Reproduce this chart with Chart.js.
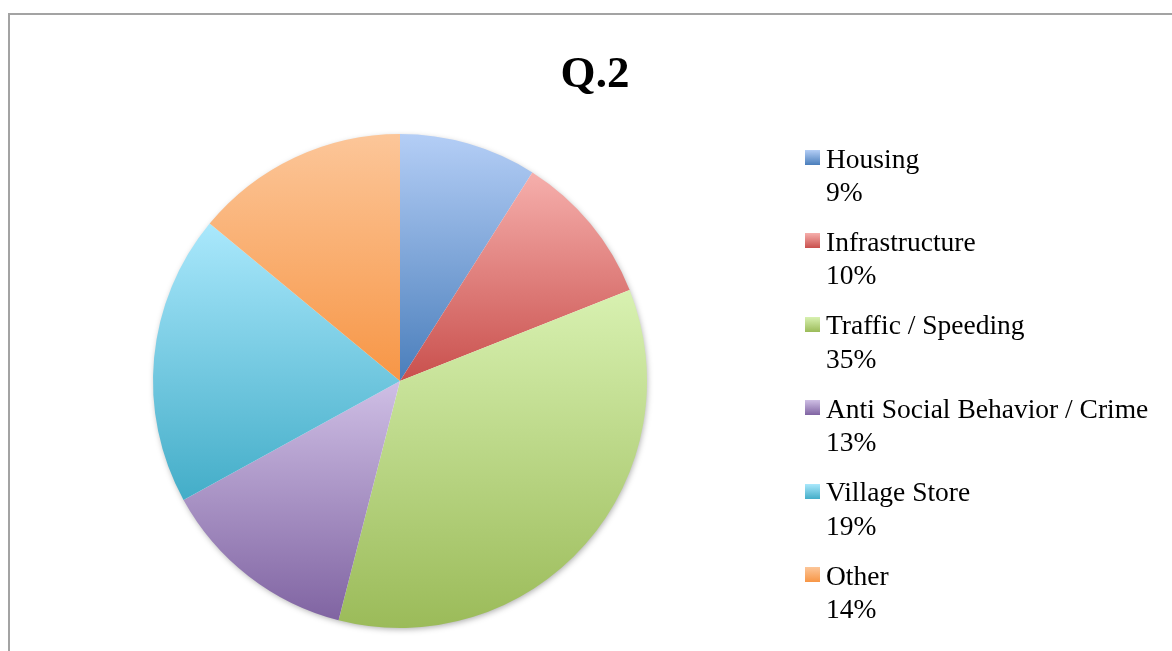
<!DOCTYPE html>
<html>
<head>
<meta charset="utf-8">
<script src="https://cdn.jsdelivr.net/npm/chart.js@4"></script>
<style>
  html, body { margin: 0; padding: 0; background: #fff; overflow: hidden; }
  #frame {
    position: absolute; left: 8px; top: 13px; width: 1164px; height: 638px;
    border-top: 2px solid #a3a3a3; border-left: 2px solid #a3a3a3;
  }
  #wrap { position: absolute; left: 0; top: 0; width: 1162px; height: 636px; }
  .legend-box { position: absolute; width: 15px; height: 15px; }
  .legend-text {
    position: absolute; font-family: "Liberation Serif", serif; font-size: 27.5px;
    line-height: 33.5px; color: #000; white-space: nowrap;
  }
</style>
</head>
<body>
<div id="frame"><div id="wrap"><canvas id="pieChart"></canvas></div></div>
<div id="legend"></div>
<script>
const categories = ['Housing', 'Infrastructure', 'Traffic / Speeding', 'Anti Social Behavior / Crime', 'Village Store', 'Other'];
const percents = [9, 10, 35, 13, 19, 14];
const topColors = ['#b4cef6', '#f6afac', '#d8f1b1', '#cfbfe5', '#aae8fc', '#fcc699'];
const bottomColors = ['#4a7ebb', '#c9504d', '#9bbb59', '#8064a2', '#43adc8', '#f79646'];

// vertical gradient per slice, light at its top, dark at its bottom
function sliceGradient(c) {
  const chart = c.chart;
  const area = chart.chartArea;
  const i = c.dataIndex;
  if (!area) return bottomColors[i];
  const vals = c.dataset.data;
  const total = vals.reduce((a, b) => a + b, 0);
  let before = 0;
  for (let k = 0; k < i; k++) before += vals[k];
  const a0 = -Math.PI / 2 + 2 * Math.PI * before / total;
  const a1 = a0 + 2 * Math.PI * vals[i] / total;
  const cy = (area.top + area.bottom) / 2;
  const r = Math.min(area.right - area.left, area.bottom - area.top) / 2;
  const ys = [cy];
  for (let k = 0; k <= 60; k++) {
    const a = a0 + (a1 - a0) * k / 60;
    ys.push(cy + r * Math.sin(a));
  }
  const g = chart.ctx.createLinearGradient(0, Math.min(...ys), 0, Math.max(...ys));
  g.addColorStop(0, topColors[i]);
  g.addColorStop(1, bottomColors[i]);
  return g;
}

// title stays centred on the whole frame, the pie sits on the left part
const pieArea = {
  id: 'pieArea',
  afterLayout(chart) {
    const a = chart.chartArea;
    a.left = 143;
    a.right = 637;
    a.width = a.right - a.left;
  }
};

const pieShadow = {
  id: 'pieShadow',
  beforeDatasetsDraw(chart) {
    const arc = chart.getDatasetMeta(0).data[0];
    if (!arc) return;
    const ctx = chart.ctx;
    ctx.save();
    ctx.shadowColor = 'rgba(0,0,0,0.35)';
    ctx.shadowBlur = 6;
    ctx.shadowOffsetX = 1;
    ctx.shadowOffsetY = 2;
    ctx.fillStyle = '#fff';
    ctx.beginPath();
    ctx.arc(arc.x, arc.y, arc.outerRadius - 1, 0, Math.PI * 2);
    ctx.fill();
    ctx.restore();
  }
};

const ctx = document.getElementById('pieChart').getContext('2d');
const pieChart = new Chart(ctx, {
  type: 'pie',
  data: {
    labels: categories,
    datasets: [{
      data: percents,
      backgroundColor: sliceGradient,
      borderWidth: 0,
      hoverOffset: 0
    }]
  },
  options: {
    responsive: true,
    maintainAspectRatio: false,
    animation: false,
    layout: { padding: { left: 8, right: 0, top: 0, bottom: 23 } },
    plugins: {
      legend: { display: false },
      tooltip: { enabled: false },
      title: {
        display: true,
        text: 'Q.2',
        color: '#000',
        font: { family: 'Liberation Serif', size: 45, weight: 'bold', lineHeight: 1.2 },
        padding: { top: 33, bottom: 32 }
      }
    }
  },
  plugins: [pieArea, pieShadow]
});

// legend: name and percent on two lines
const legend = document.getElementById('legend');
categories.forEach((name, i) => {
  const box = document.createElement('div');
  box.className = 'legend-box';
  box.style.left = '805px';
  box.style.top = (150 + 83.4 * i) + 'px';
  box.style.background = `linear-gradient(${topColors[i]}, ${bottomColors[i]})`;
  legend.appendChild(box);

  const txt = document.createElement('div');
  txt.className = 'legend-text';
  txt.style.left = '826px';
  txt.style.top = (141.5 + 83.4 * i) + 'px';
  txt.innerHTML = name + '<br>' + percents[i] + '%';
  legend.appendChild(txt);
});
</script>
</body>
</html>
